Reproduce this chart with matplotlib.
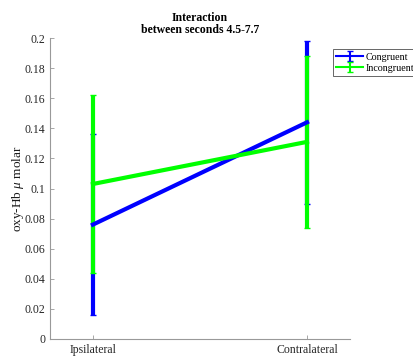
import numpy as np
import matplotlib
matplotlib.use('Agg')
import matplotlib.pyplot as plt
from matplotlib.container import ErrorbarContainer
from matplotlib.legend_handler import HandlerErrorbar

plt.rcParams['font.family'] = ['Liberation Serif', 'DejaVu Serif']
plt.rcParams['mathtext.fontset'] = 'custom'
plt.rcParams['mathtext.it'] = 'Liberation Serif:italic'
plt.rcParams['mathtext.rm'] = 'Liberation Serif'

conditions = ['Ipsilateral', 'Contralateral']
congruent_mean = [0.076, 0.144]
congruent_err = [0.060, 0.054]
incongruent_mean = [0.103, 0.131]
incongruent_err = [0.059, 0.057]

x = np.arange(1, len(conditions) + 1)

fig = plt.figure(figsize=(4.14, 3.56), dpi=100)
ax = fig.add_axes([0.121, 0.048, 0.724, 0.845])

ax.errorbar(x, congruent_mean, yerr=congruent_err, color=(0, 0, 1), lw=3,
            capsize=2, capthick=1, label='Congruent')
ax.errorbar(x, incongruent_mean, yerr=incongruent_err, color=(0, 1, 0), lw=3,
            capsize=2, capthick=1, label='Incongruent')

ax.set_xlim(0.8, 2.2)
ax.set_ylim(0, 0.2)
ax.set_xticks(x)
ax.set_xticklabels(conditions)
ax.set_yticks(np.arange(0, 0.201, 0.02))
ax.set_yticklabels(['0', '0.02', '0.04', '0.06', '0.08', '0.1', '0.12',
                    '0.14', '0.16', '0.18', '0.2'])
ax.tick_params(direction='in', length=3, width=0.6, color='0.6',
               labelsize=8.5, labelcolor='0.15')
for s in ['top', 'right']:
    ax.spines[s].set_visible(False)
for s in ['left', 'bottom']:
    ax.spines[s].set_color('0.6')
    ax.spines[s].set_linewidth(0.8)

ax.set_ylabel(r'oxy-Hb $\mu$ molar', fontsize=9.5, color='0.1')
ax.yaxis.set_label_coords(-0.08, 0.5)
ax.set_title('Interaction\nbetween seconds 4.5-7.7', fontsize=8.5,
             fontweight='bold', linespacing=1.0, pad=4)


def thin(leg_artist, orig):
    leg_artist.update_from(orig)
    leg_artist.set_linewidth(1.5)


leg = ax.legend(loc='upper left', bbox_to_anchor=(0.804, 0.862),
                bbox_transform=fig.transFigure, fontsize=7.2, fancybox=False,
                edgecolor='0.3', framealpha=1, borderpad=0.35,
                handlelength=2.7, handletextpad=0.2, labelspacing=0.2,
                borderaxespad=0,
                handler_map={ErrorbarContainer: HandlerErrorbar(update_func=thin)})
leg.get_frame().set_linewidth(0.6)

fig.savefig('out.png', dpi=100)
